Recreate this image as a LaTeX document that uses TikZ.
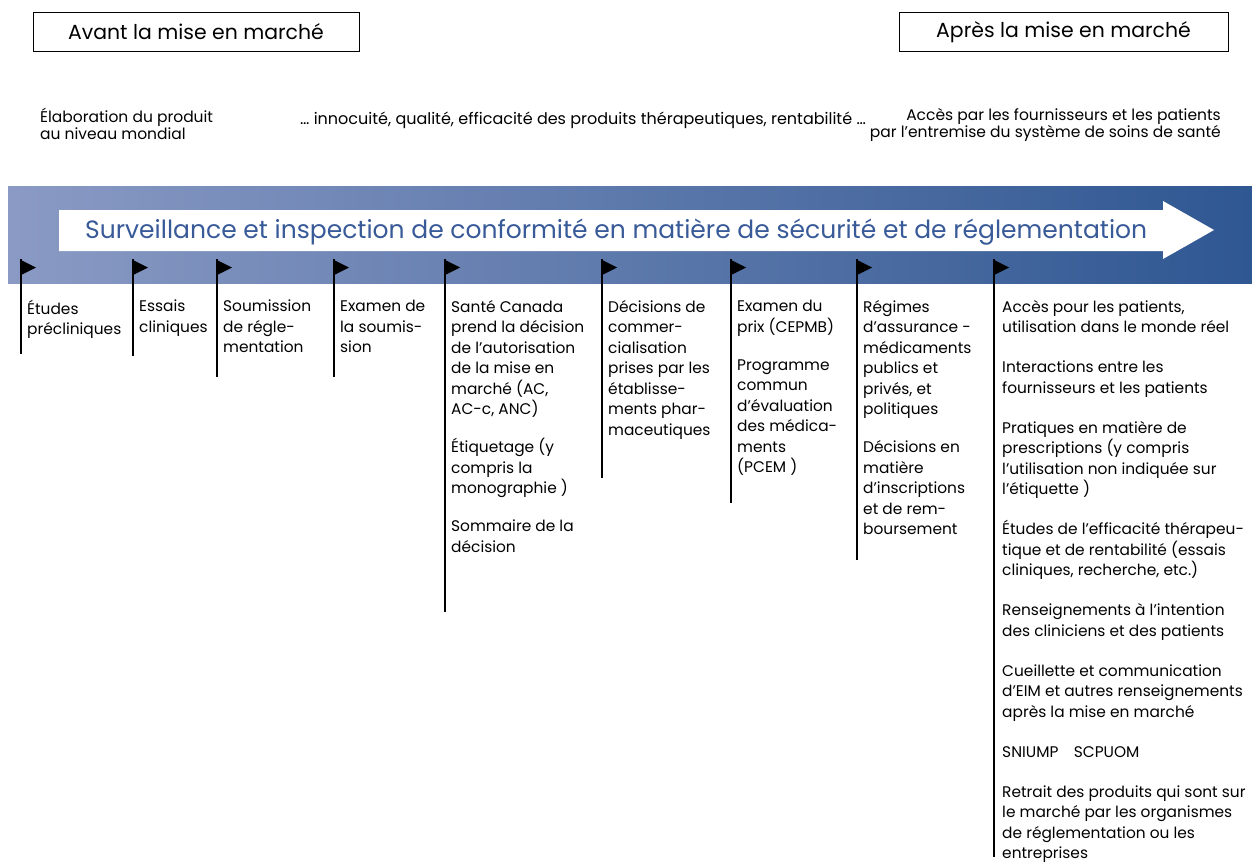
\documentclass[tikz,border=0pt]{standalone}
\usepackage{fontspec}
\setmainfont{Poppins}
\usetikzlibrary{positioning}
\definecolor{bandleft}{RGB}{138,154,196}
\definecolor{bandright}{RGB}{47,87,146}
\definecolor{titleblue}{RGB}{56,90,152}

\begin{document}
\begin{tikzpicture}[x=1pt,y=-1pt,
  col/.style = {inner sep=0pt, align=left, anchor=north west, execute at begin node={\rule{0pt}{17pt}}, font=\fontsize{15.4}{20.5}\selectfont},
  top/.style = {inner sep=0pt, align=left, anchor=north west, execute at begin node={\rule{0pt}{16pt}}, font=\fontsize{15.5}{17}\selectfont},
  box/.style = {draw, line width=0.9pt, minimum height=39pt, inner sep=0pt, font=\fontsize{20.4}{25}\selectfont},
  pole/.style = {line width=1.1pt}]
\useasboundingbox (0,0) rectangle (1252,867);
\node[box, minimum width=326pt] (avant) at (196,31.5) {Avant la mise en marché};
\node[box, minimum width=329pt] (apres) at (1063.5,32) {Après la mise en marché};
\node[top] (elab) at (40,108) {Élaboration du produit\\au niveau mondial};
\node[top, font=\fontsize{16}{17}\selectfont] (qualite) at (300,108) {… innocuité, qualité, efficacité des produits thérapeutiques, rentabilité …};
\node[top, align=right, anchor=north east] (acces) at (1221,108) {Accès par les fournisseurs et les patients\\par l’entremise du système de soins de santé};
\shade[left color=bandleft, right color=bandright] (8,186) rectangle (1252,283);
\fill[white] (59,210) -- (1163,210) -- (1163,201) -- (1214,230) -- (1163,259) -- (1163,251) -- (59,251) -- cycle;
\node[anchor=base west, inner sep=0pt, text=titleblue, font=\fontsize{25}{30}\selectfont] (titre) at (85,238)
  {Surveillance et inspection de conformité en matière de sécurité et de réglementation};
\foreach \x/\b in {21/354,133/356,217/377,334/377,445/612,602/478,731/503,857/560,994/857}
  { \draw[pole] (\x,259) -- (\x,\b);
    \fill (\x,260) -- (\x+15,267.5) -- (\x,275) -- cycle; }
\node[col] (c1) at (27,300) {Études\\précliniques};
\node[col] (c2) at (139,300) {Essais\\cliniques};
\node[col] (c3) at (223,300) {Soumission\\de régle-\\mentation};
\node[col] (c4) at (340,300) {Examen de\\la soumis-\\sion};
\node[col] (c5) at (451,300) {Santé Canada\\prend la décision\\de l’autorisation\\de la mise en\\marché (AC,\\AC-c, ANC)\\[17.5pt]
  Étiquetage (y\\compris la\\monographie )\\[17.5pt]Sommaire de la\\décision};
\node[col] (c6) at (608,300) {Décisions de\\commer-\\cialisation\\prises par les\\établisse-\\ments phar-\\maceutiques};
\node[col] (c7) at (737,300) {Examen du\\prix (CEPMB)\\[17.5pt]Programme\\commun\\d’évaluation\\des médica-\\ments\\(PCEM )};
\node[col] (c8) at (863,300) {Régimes\\d’assurance -\\médicaments\\publics et\\privés, et\\politiques\\[17.5pt]
  Décisions en\\matière\\d’inscriptions\\et de rem-\\boursement};
\node[col] (c9) at (1002,300) {Accès pour les patients,\\utilisation dans le monde réel\\[19.5pt]
  Interactions entre les\\fournisseurs et les patients\\[19.5pt]
  Pratiques en matière de\\prescriptions (y compris\\l’utilisation non indiquée sur\\l’étiquette )\\[19.5pt]
  Études de l’efficacité thérapeu-\\tique et de rentabilité (essais\\cliniques, recherche, etc.)\\[19.5pt]
  Renseignements à l’intention\\des cliniciens et des patients\\[19.5pt]
  Cueillette et communication\\d’EIM et autres renseignements\\après la mise en marché\\[19.5pt]
  SNIUMP\quad SCPUOM\\[19.5pt]
  Retrait des produits qui sont sur\\le marché par les organismes\\de réglementation ou les\\entreprises};
\end{tikzpicture}
\end{document}
